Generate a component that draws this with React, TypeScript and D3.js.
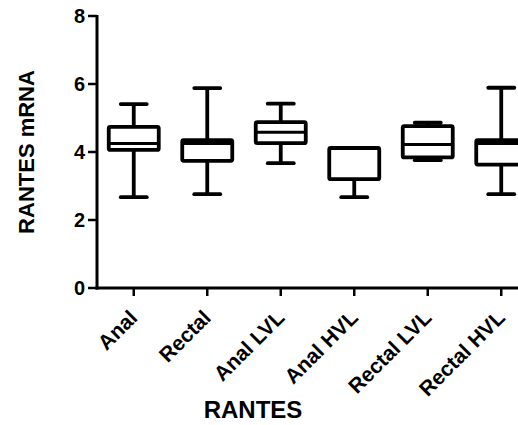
import React from "react";
import * as d3 from "d3";

const categories = ["Anal", "Rectal", "Anal LVL", "Anal HVL", "Rectal LVL", "Rectal HVL"];
const minValues = [2.67, 2.76, 3.67, 2.67, 3.76, 2.76];
const q1Values = [4.06, 3.74, 4.26, 3.2, 3.84, 3.63];
const medianValues = [4.25, 4.25, 4.58, 4.1, 4.22, 4.25];
const q3Values = [4.74, 4.35, 4.88, 4.12, 4.76, 4.35];
const maxValues = [5.41, 5.88, 5.42, 4.12, 4.86, 5.89];
const yTicks = [0, 2, 4, 6, 8];

const W = 518;
const H = 425;
const left = 97;
const top = 16;
const bottom = 288;
const font = "Arial, 'Liberation Sans', sans-serif";

export default function App() {
  const y = d3.scaleLinear().domain([0, 8]).range([bottom, top]);
  const x = d3.scaleBand<string>().domain(categories).range([left, left + 6 * 73.5]).padding(0);
  const bw = x.bandwidth();
  const boxHalf = 25;
  const capHalf = 13;
  const sw = 3.8;

  return (
    <svg width={W} height={H} style={{ position: "absolute", left: 0, top: 0, background: "#fff" }}>
      {/* y axis */}
      <line x1={left} x2={left} y1={top - 1} y2={bottom + 1.5} stroke="#000" strokeWidth={3} />
      {yTicks.map((t) => (
        <g key={t}>
          <line x1={left - 9} x2={left} y1={y(t)} y2={y(t)} stroke="#000" strokeWidth={2.5} />
          <text x={left - 12} y={y(t)} dy="0.36em" textAnchor="end" fontFamily={font} fontWeight="bold" fontSize={20}>
            {t}
          </text>
        </g>
      ))}
      {/* x axis */}
      <line x1={left - 1.5} x2={W} y1={bottom} y2={bottom} stroke="#000" strokeWidth={3} />
      {categories.map((c) => {
        const cx = (x(c) as number) + bw / 2;
        return (
          <g key={c}>
            <line x1={cx} x2={cx} y1={bottom} y2={bottom + 8} stroke="#000" strokeWidth={2.5} />
            <text
              transform={`translate(${cx + 5},${bottom + 31}) rotate(-45)`}
              textAnchor="end"
              fontFamily={font}
              fontWeight="bold"
              fontSize={21}
            >
              {c}
            </text>
          </g>
        );
      })}
      {/* boxes */}
      {categories.map((c, i) => {
        const cx = (x(c) as number) + bw / 2;
        return (
          <g key={c} stroke="#000" strokeWidth={sw} fill="none" strokeLinejoin="round">
            <line x1={cx} x2={cx} y1={y(maxValues[i])} y2={y(q3Values[i])} />
            <line x1={cx} x2={cx} y1={y(q1Values[i])} y2={y(minValues[i])} />
            <line x1={cx - capHalf} x2={cx + capHalf} y1={y(maxValues[i])} y2={y(maxValues[i])} strokeLinecap="round" />
            <line x1={cx - capHalf} x2={cx + capHalf} y1={y(minValues[i])} y2={y(minValues[i])} strokeLinecap="round" />
            <rect
              x={cx - boxHalf}
              y={y(q3Values[i])}
              width={boxHalf * 2}
              height={y(q1Values[i]) - y(q3Values[i])}
              rx={1.5}
            />
            <line x1={cx - boxHalf} x2={cx + boxHalf} y1={y(medianValues[i])} y2={y(medianValues[i])} strokeWidth={3} />
          </g>
        );
      })}
      {/* axis titles */}
      <text
        transform={`translate(34,152) rotate(-90)`}
        textAnchor="middle"
        fontFamily={font}
        fontWeight="bold"
        fontSize={22}
      >
        RANTES mRNA
      </text>
      <text x={253} y={418} textAnchor="middle" fontFamily={font} fontWeight="bold" fontSize={24}>
        RANTES
      </text>
    </svg>
  );
}
